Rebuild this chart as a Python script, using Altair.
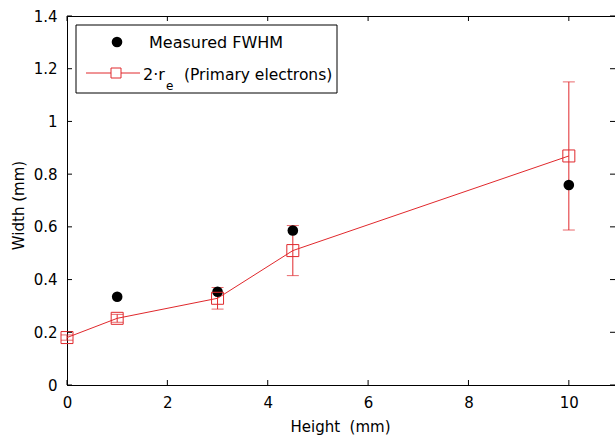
import altair as alt
import pandas as pd

# ---- data ----
heights = [0, 1, 3, 4.5, 10]
re2 = [0.18, 0.253, 0.329, 0.51, 0.869]
re2_err = [0.01, 0.015, 0.041, 0.095, 0.281]

meas_heights = [1, 3, 4.5, 10]
meas_fwhm = [0.335, 0.354, 0.586, 0.759]

x_ticks = [0, 2, 4, 6, 8, 10]
y_ticks = [0, 0.2, 0.4, 0.6, 0.8, 1.0, 1.2, 1.4]

RED = "#e0282c"
FONT = "DejaVu Sans"
W, H = 548, 369
XDOM = [0, 10.92]
YDOM = [0, 1.4]

df_re = pd.DataFrame({
    "h": heights,
    "w": re2,
    "lo": [v - e for v, e in zip(re2, re2_err)],
    "hi": [v + e for v, e in zip(re2, re2_err)],
})
df_m = pd.DataFrame({"h": meas_heights, "w": meas_fwhm})
df_xt = pd.DataFrame({"h": x_ticks})
df_yt = pd.DataFrame({"w": y_ticks})

xs = alt.Scale(domain=XDOM, nice=False, zero=False)
ys = alt.Scale(domain=YDOM, nice=False, zero=False)

x_axis = alt.Axis(values=x_ticks, format="d", ticks=False, grid=False,
                  labelPadding=22, labelBaseline="alphabetic",
                  titleX=273, titleY=46,
                  titleBaseline="alphabetic", titleAlign="center",
                  titleFontWeight="normal", labelFlush=False)
y_axis = alt.Axis(values=y_ticks, format="~g", ticks=False, grid=False,
                  labelPadding=10, labelBaseline="middle",
                  titleX=-44, titleY=189, titleAngle=270,
                  titleBaseline="alphabetic", titleAlign="center",
                  titleFontWeight="normal", labelFlush=False)

XT = "Height\u00a0 (mm)"
YT = "Width (mm)"


def X(field):
    return alt.X(field, type="quantitative", scale=xs, axis=x_axis, title=XT)


def Y(field):
    return alt.Y(field, type="quantitative", scale=ys, axis=y_axis, title=YT)


base_line = alt.Chart(df_re).mark_line(color=RED, strokeWidth=1).encode(
    x=X("h"), y=Y("w"),
)

err_rule = alt.Chart(df_re).mark_rule(color=RED, strokeWidth=1).encode(
    x=X("h"), y=Y("lo"), y2="hi:Q",
)
err_lo = alt.Chart(df_re).mark_tick(color=RED, orient="horizontal", size=12, thickness=1).encode(
    x=X("h"), y=Y("lo"),
)
err_hi = alt.Chart(df_re).mark_tick(color=RED, orient="horizontal", size=12, thickness=1).encode(
    x=X("h"), y=Y("hi"),
)

dots = alt.Chart(df_m).mark_point(shape="circle", filled=True, color="black",
                                  size=113, opacity=1).encode(
    x=X("h"), y=Y("w"),
)

squares = alt.Chart(df_re).mark_point(shape="square", filled=False, color=RED,
                                      size=144, strokeWidth=1, opacity=1).encode(
    x=X("h"), y=Y("w"),
)

# inward ticks (bottom, top, left, right)
xt_bot = alt.Chart(df_xt).mark_rule(color="black", strokeWidth=1).encode(
    x=X("h"), y=alt.value(H), y2=alt.value(H - 5))
xt_top = alt.Chart(df_xt).mark_rule(color="black", strokeWidth=1).encode(
    x=X("h"), y=alt.value(0), y2=alt.value(5))
yt_left = alt.Chart(df_yt).mark_rule(color="black", strokeWidth=1).encode(
    y=Y("w"), x=alt.value(0), x2=alt.value(5))
yt_right = alt.Chart(df_yt).mark_rule(color="black", strokeWidth=1).encode(
    y=Y("w"), x=alt.value(W - 5), x2=alt.value(W))

# legend (decoration)
one = pd.DataFrame({"a": [0]})
leg_box = alt.Chart(one).mark_rect(fill="white", stroke="black", strokeWidth=1).encode(
    x=alt.value(9), x2=alt.value(270), y=alt.value(9), y2=alt.value(77))
leg_dot = alt.Chart(one).mark_point(shape="circle", filled=True, color="black",
                                    size=113, opacity=1).encode(
    x=alt.value(50), y=alt.value(26))
leg_t1 = alt.Chart(one).mark_text(text="Measured FWHM", font=FONT, fontSize=16,
                                  align="left", baseline="alphabetic", color="black").encode(
    x=alt.value(82), y=alt.value(31.5))
leg_line = alt.Chart(one).mark_rule(color=RED, strokeWidth=1).encode(
    x=alt.value(19), x2=alt.value(73), y=alt.value(57))
leg_sq = alt.Chart(one).mark_point(shape="square", filled=True, fill="white", stroke=RED,
                                   size=100, strokeWidth=1, opacity=1).encode(
    x=alt.value(49), y=alt.value(57))
leg_t2a = alt.Chart(one).mark_text(text="2\u00b7r", font=FONT, fontSize=16,
                                   align="left", baseline="alphabetic", color="black").encode(
    x=alt.value(76), y=alt.value(64))
leg_t2b = alt.Chart(one).mark_text(text="e", font=FONT, fontSize=12,
                                   align="left", baseline="alphabetic", color="black").encode(
    x=alt.value(99), y=alt.value(74))
leg_t2c = alt.Chart(one).mark_text(text="(Primary electrons)", font=FONT, fontSize=15.5,
                                   align="left", baseline="alphabetic", color="black").encode(
    x=alt.value(117), y=alt.value(64))

chart = alt.layer(
    base_line, err_rule, err_lo, err_hi, dots, squares,
    xt_bot, xt_top, yt_left, yt_right,
    leg_box, leg_dot, leg_t1, leg_line, leg_sq, leg_t2a, leg_t2b, leg_t2c,
).properties(
    width=W, height=H,
    autosize=alt.AutoSizeParams(type="none"),
    padding={"left": 67, "top": 16, "right": 0, "bottom": 51},
    background="white",
).configure_view(
    stroke="black", strokeWidth=1,
).configure_axis(
    domainColor="black", domainWidth=1,
    labelFont=FONT, labelFontSize=15, labelColor="black",
    titleFont=FONT, titleFontSize=15, titleColor="black",
)

chart.save("out.html", embed_options={"renderer": "svg", "actions": False})
